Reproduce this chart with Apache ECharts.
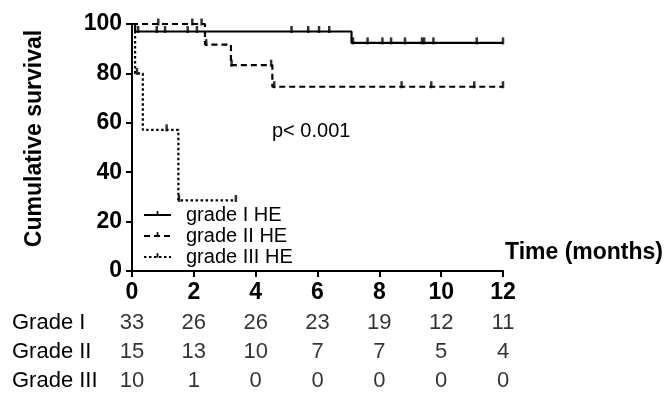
<!DOCTYPE html>
<html>
<head>
<meta charset="utf-8">
<script src="https://cdn.jsdelivr.net/npm/echarts@6/dist/echarts.min.js"></script>
<style>html,body{margin:0;padding:0;background:#fff}#c{width:670px;height:395px}</style>
</head>
<body>
<div id="c"></div>
<script>
// ---- data ----
var seriesNames = ['grade I HE', 'grade II HE', 'grade III HE'];
// Kaplan-Meier step points [time (months), survival %]
var gradeI = [[0, 100], [0.1, 96.97], [7.1, 92.35], [12, 92.35]];
var gradeII = [[0, 100], [2.36, 91.67], [3.2, 83.33], [4.54, 74.6], [12, 74.6]];
var gradeIII = [[0, 100], [0.1, 80], [0.35, 57.14], [1.5, 28.57], [3.36, 28.57]];
// censored observations [time, survival %]
var censorI = [[0.2, 96.97], [0.8, 96.97], [1.07, 96.97], [1.8, 96.97], [2.1, 96.97],
  [5.16, 96.97], [5.7, 96.97], [6.05, 96.97], [6.38, 96.97],
  [7.15, 92.35], [7.62, 92.35], [8.1, 92.35], [8.38, 92.35], [8.83, 92.35], [9.38, 92.35], [9.45, 92.35], [9.75, 92.35], [11.15, 92.35], [12, 92.35]];
var censorII = [[0.85, 100], [1.95, 100], [2.25, 100], [2.4, 91.67], [3.22, 83.33], [4.5, 83.33], [4.6, 74.6],
  [8.72, 74.6], [9.68, 74.6], [11.07, 74.6], [12, 74.6]];
var censorIII = [[0.16, 80], [1.12, 57.14], [1.52, 28.57], [3.36, 28.57]];
var xTicks = [0, 2, 4, 6, 8, 10, 12];
var riskRows = ['Grade I', 'Grade II', 'Grade III'];
var riskI = [33, 26, 26, 23, 19, 12, 11];
var riskII = [15, 13, 10, 7, 7, 5, 4];
var riskIII = [10, 1, 0, 0, 0, 0, 0];
var pText = 'p< 0.001';

// ---- chart ----
var FONT = "'Liberation Sans', Arial, sans-serif";
var chart = echarts.init(document.getElementById('c'));
var dashes = ['solid', [6, 4], [2.5, 2.5]];
var kmData = [gradeI, gradeII, gradeIII];
var censData = [censorI, censorII, censorIII];
var riskData = [riskI, riskII, riskIII];
var tickSymbol = 'path://M0,0 M10,10 M4.1,1 L5.9,1 L5.9,5.6 L4.1,5.6 Z';

var series = [];
kmData.forEach(function (d, i) {
  series.push({
    name: seriesNames[i], type: 'line', step: 'end', data: d,
    xAxisIndex: 0, yAxisIndex: 0,
    symbol: tickSymbol, symbolSize: 8, showSymbol: false,
    lineStyle: { color: '#000', width: 2.2, type: dashes[i] },
    itemStyle: { color: '#000' },
    silent: true, animation: false, z: 3
  });
  series.push({
    name: seriesNames[i] + ' censored', type: 'scatter', data: censData[i],
    xAxisIndex: 0, yAxisIndex: 0,
    symbol: 'rect', symbolSize: [2.5, 7], symbolOffset: [0, -2],
    itemStyle: { color: '#000' }, silent: true, animation: false, z: 4
  });
});
riskData.forEach(function (row, r) {
  series.push({
    type: 'scatter', xAxisIndex: 1, yAxisIndex: 1,
    data: row.map(function (v, k) { return [xTicks[k], r, v]; }),
    symbolSize: 1, itemStyle: { color: 'rgba(0,0,0,0)' },
    label: { show: true, position: 'inside', formatter: function (p) { return String(p.value[2]); },
      color: '#000', fontFamily: FONT, fontSize: 22 },
    silent: true, animation: false
  });
});

chart.setOption({
  animation: false,
  backgroundColor: '#fff',
  grid: [
    { left: 132, right: 167, top: 24, height: 247 },
    { left: 132, right: 167, top: 308, height: 96 }
  ],
  xAxis: [
    { type: 'value', gridIndex: 0, min: 0, max: 12, interval: 2,
      name: 'Time (months)', nameLocation: 'end', nameGap: 2,
      nameTextStyle: { color: '#000', fontFamily: FONT, fontSize: 23, fontWeight: 'bold', align: 'left', verticalAlign: 'bottom', padding: [0, 0, 7, 0] },
      axisLine: { show: true, onZero: false, lineStyle: { color: '#000', width: 2 } },
      axisTick: { show: true, length: 6, lineStyle: { color: '#000', width: 2 } },
      axisLabel: { color: '#000', fontFamily: FONT, fontSize: 23, fontWeight: 'bold', margin: 10 },
      splitLine: { show: false } },
    { type: 'value', gridIndex: 1, min: 0, max: 12, interval: 2, show: false }
  ],
  yAxis: [
    { type: 'value', gridIndex: 0, min: 0, max: 100, interval: 20,
      name: 'Cumulative survival', nameLocation: 'middle', nameGap: 86, nameRotate: 90,
      nameTextStyle: { color: '#000', fontFamily: FONT, fontSize: 23, fontWeight: 'bold', padding: [0, 0, 0, 18] },
      axisLine: { show: true, onZero: false, lineStyle: { color: '#000', width: 2 } },
      axisTick: { show: true, length: 6, lineStyle: { color: '#000', width: 2 } },
      axisLabel: { color: '#000', fontFamily: FONT, fontSize: 23, fontWeight: 'bold', margin: 10 },
      splitLine: { show: false } },
    { type: 'category', gridIndex: 1, data: riskRows, inverse: true,
      axisLine: { show: false }, axisTick: { show: false }, splitLine: { show: false },
      axisLabel: { color: '#000', fontFamily: FONT, fontSize: 22, align: 'left', margin: 120 } }
  ],
  legend: {
    data: seriesNames, orient: 'vertical', left: 143, top: 205,
    itemWidth: 27, itemHeight: 12, itemGap: 1, padding: 0,
    textStyle: { color: '#000', fontFamily: FONT, fontSize: 20, padding: [0, 0, 0, 10] },
    selectedMode: false
  },
  graphic: [
    { type: 'text', left: 272, top: 121, style: { text: pText, fill: '#000', font: '20px ' + FONT } }
  ],
  series: series
});
</script>
</body>
</html>
